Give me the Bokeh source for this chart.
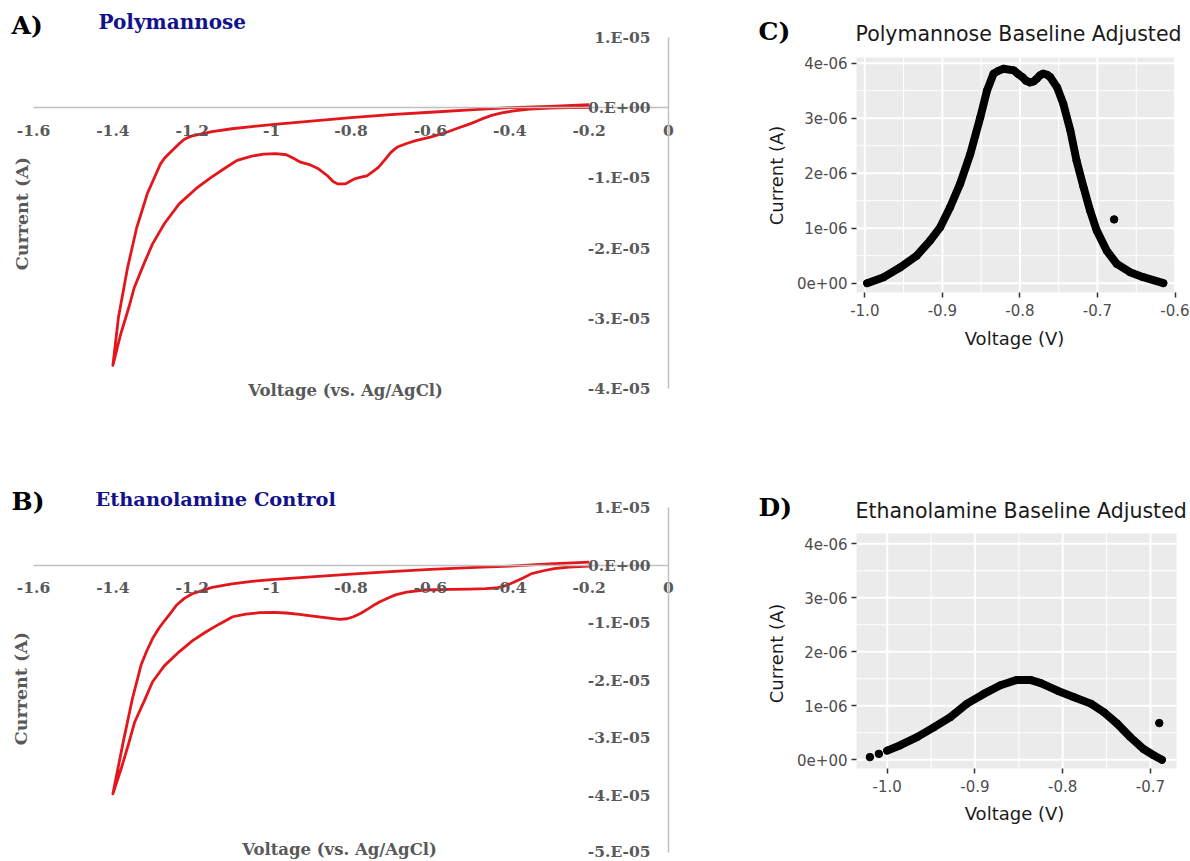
import math
from bokeh.plotting import figure
from bokeh.layouts import row, column
from bokeh.models import Range1d, FixedTicker, CustomJSTickFormatter, Label
from bokeh.embed import file_html
from bokeh.resources import INLINE

# ---------------- data ----------------
# Panel A: Polymannose cyclic voltammogram (V vs Ag/AgCl, A) - one closed sweep
a_v = [-0.2, -0.3, -0.4, -0.5, -0.6, -0.7, -0.8, -0.9, -1.0, -1.05, -1.1, -1.15, -1.2, -1.22,
       -1.233, -1.255, -1.27, -1.28, -1.295, -1.313, -1.34, -1.363, -1.386, -1.40,
       -1.38, -1.36, -1.346, -1.32, -1.30, -1.27, -1.233, -1.19, -1.154, -1.12, -1.087, -1.05,
       -1.02, -0.99, -0.963, -0.945, -0.927, -0.905, -0.882, -0.86, -0.845, -0.834, -0.814,
       -0.80, -0.789, -0.775, -0.76, -0.745, -0.731, -0.716, -0.70, -0.69, -0.683, -0.66,
       -0.637, -0.6, -0.559, -0.53, -0.50, -0.47, -0.446, -0.42, -0.39, -0.35, -0.30, -0.25, -0.2]
a_i = [0.45e-6, 0.2e-6, 0.0, -0.3e-6, -0.65e-6, -1.0e-6, -1.4e-6, -1.9e-6, -2.4e-6, -2.7e-6,
       -3.0e-6, -3.4e-6, -4.0e-6, -4.5e-6, -5.14e-6, -6.34e-6, -7.2e-6, -8.0e-6, -9.9e-6,
       -1.22e-5, -1.71e-5, -2.28e-5, -2.99e-5, -3.67e-5,
       -3.22e-5, -2.85e-5, -2.56e-5, -2.2e-5, -1.94e-5, -1.65e-5, -1.37e-5, -1.15e-5, -1.0e-5,
       -8.7e-6, -7.5e-6, -6.9e-6, -6.6e-6, -6.55e-6, -6.7e-6, -7.2e-6, -7.76e-6, -8.1e-6,
       -8.7e-6, -9.66e-6, -1.05e-5, -1.085e-5, -1.085e-5, -1.04e-5, -1.01e-5, -9.9e-6, -9.7e-6,
       -9.1e-6, -8.5e-6, -7.5e-6, -6.4e-6, -5.9e-6, -5.6e-6, -5.1e-6, -4.7e-6, -4.2e-6,
       -3.5e-6, -2.9e-6, -2.3e-6, -1.6e-6, -1.1e-6, -0.75e-6, -0.45e-6, -0.2e-6, -0.05e-6,
       0.0, 0.0]

# Panel B: Ethanolamine control cyclic voltammogram - one closed sweep
b_v = [-0.2, -0.3, -0.4, -0.5, -0.6, -0.7, -0.8, -0.9, -1.0, -1.05, -1.1, -1.15, -1.2, -1.22,
       -1.24, -1.256, -1.27, -1.284, -1.30, -1.315, -1.329, -1.351, -1.374, -1.40,
       -1.379, -1.36, -1.345, -1.32, -1.30, -1.27, -1.233, -1.20, -1.167, -1.13, -1.098,
       -1.065, -1.03, -0.995, -0.963, -0.93, -0.896, -0.86, -0.829, -0.81, -0.794, -0.775,
       -0.761, -0.745, -0.727, -0.705, -0.688, -0.66, -0.615, -0.55, -0.502, -0.46, -0.435,
       -0.41, -0.39, -0.365, -0.345, -0.315, -0.288, -0.25, -0.2]
b_i = [0.5e-6, 0.2e-6, -0.2e-6, -0.45e-6, -0.75e-6, -1.15e-6, -1.6e-6, -2.05e-6, -2.55e-6,
       -2.85e-6, -3.3e-6, -3.9e-6, -5.0e-6, -5.8e-6, -7.0e-6, -8.5e-6, -9.7e-6, -1.1e-5,
       -1.28e-5, -1.5e-5, -1.74e-5, -2.33e-5, -3.08e-5, -3.98e-5,
       -3.54e-5, -3.1e-5, -2.73e-5, -2.35e-5, -2.03e-5, -1.75e-5, -1.51e-5, -1.32e-5,
       -1.17e-5, -1.02e-5, -9.0e-6, -8.55e-6, -8.3e-6, -8.25e-6, -8.35e-6, -8.6e-6, -8.9e-6,
       -9.2e-6, -9.45e-6, -9.35e-6, -9.0e-6, -8.4e-6, -7.8e-6, -7.1e-6, -6.4e-6, -5.7e-6,
       -5.2e-6, -4.7e-6, -4.35e-6, -4.25e-6, -4.2e-6, -4.1e-6, -4.0e-6, -3.6e-6, -3.0e-6,
       -2.2e-6, -1.5e-6, -1.0e-6, -0.64e-6, -0.35e-6, -0.2e-6]

# Panel C: Polymannose baseline adjusted
c_v = [-0.997, -0.9755, -0.954, -0.933, -0.9155, -0.9026, -0.890, -0.877, -0.864, -0.851,
       -0.8425, -0.834, -0.828, -0.821, -0.808, -0.802, -0.797, -0.792, -0.787, -0.782,
       -0.778, -0.774, -0.770, -0.765, -0.761, -0.752, -0.744, -0.735, -0.727, -0.718,
       -0.7095, -0.701, -0.688, -0.675, -0.658, -0.641, -0.615]
c_i = [0.0, 0.11e-6, 0.29e-6, 0.50e-6, 0.78e-6, 1.02e-6, 1.38e-6, 1.81e-6, 2.35e-6, 3.02e-6,
       3.50e-6, 3.81e-6, 3.86e-6, 3.90e-6, 3.87e-6, 3.80e-6, 3.75e-6, 3.68e-6, 3.65e-6,
       3.67e-6, 3.72e-6, 3.78e-6, 3.81e-6, 3.79e-6, 3.75e-6, 3.56e-6, 3.26e-6, 2.78e-6,
       2.23e-6, 1.75e-6, 1.32e-6, 0.96e-6, 0.59e-6, 0.35e-6, 0.20e-6, 0.11e-6, 0.0]
c_out_v = [-0.6785]
c_out_i = [1.16e-6]

# Panel D: Ethanolamine baseline adjusted
d_v = [-1.0, -0.985, -0.966, -0.947, -0.928, -0.909, -0.890, -0.871, -0.852, -0.837, -0.825,
       -0.806, -0.787, -0.768, -0.753, -0.738, -0.723, -0.708, -0.696, -0.687]
d_i = [0.17e-6, 0.27e-6, 0.42e-6, 0.60e-6, 0.79e-6, 1.04e-6, 1.22e-6, 1.38e-6, 1.48e-6, 1.48e-6,
       1.42e-6, 1.28e-6, 1.16e-6, 1.04e-6, 0.88e-6, 0.67e-6, 0.42e-6, 0.20e-6, 0.08e-6, 0.0]
d_out_v = [-1.0197, -1.0095, -0.690]
d_out_i = [0.05e-6, 0.11e-6, 0.68e-6]

cv_xticks = [-1.6, -1.4, -1.2, -1.0, -0.8, -0.6, -0.4, -0.2, 0.0]
a_yticks = [1e-5, 0.0, -1e-5, -2e-5, -3e-5, -4e-5]
b_yticks = [1e-5, 0.0, -1e-5, -2e-5, -3e-5, -4e-5, -5e-5]
c_xticks = [-1.0, -0.9, -0.8, -0.7, -0.6]
c_xminor = [-0.95, -0.85, -0.75, -0.65]
d_xticks = [-1.0, -0.9, -0.8, -0.7]
d_xminor = [-0.95, -0.85, -0.75]
gg_yticks = [0.0, 1e-6, 2e-6, 3e-6, 4e-6]
gg_yminor = [0.5e-6, 1.5e-6, 2.5e-6, 3.5e-6]

SERIF = "DejaVu Serif"
SANS = "DejaVu Sans"
RED = "#E3161B"
NAVY = "#12128A"
AXGRAY = "#595959"


def mapper(px0, px1, d0, d1):
    return lambda p: d0 + (p - px0) * (d1 - d0) / (px1 - px0)


def base_fig(w, h, fx, fy, x0, y0):
    # the frame fills the whole canvas; page pixel (x0..x0+w, y0..y0+h)
    p = figure(width=w, height=h,
               x_range=Range1d(fx(x0), fx(x0 + w)), y_range=Range1d(fy(y0 + h), fy(y0)),
               output_backend="svg", toolbar_location=None,
               min_border_left=0, min_border_right=0, min_border_top=0, min_border_bottom=0)
    p.title.visible = False
    p.outline_line_color = None
    p.xgrid.visible = False
    p.ygrid.visible = False
    p.background_fill_color = "white"
    p.border_fill_color = "white"
    return p


def add_label(fig, fx, fy, px, py, text, size, color, font, style="bold", align="left", angle=0.0):
    fig.add_layout(Label(x=fx(px), y=fy(py), text=text, text_font=font,
                         text_font_size=f"{size}px", text_font_style=style,
                         text_color=color, text_align=align, text_baseline="middle",
                         angle=angle))


def cv_panel(y0, h, frame_top, frame_bot, ymin, ticks, v, i):
    fx = mapper(33, 668, -1.6, 0.0)
    fy = mapper(frame_top, frame_bot, 1e-5, ymin)
    p = base_fig(740, h, fx, fy, 0, y0)
    p.line(v, i, line_color=RED, line_width=2.8, line_join="round")
    for ax in (p.xaxis, p.yaxis):
        ax.fixed_location = 0
        ax.axis_line_color = "#C0C0C0"
        ax.axis_line_width = 1.5
        ax.major_tick_out = 0
        ax.major_tick_in = 0
        ax.minor_tick_out = 0
        ax.minor_tick_in = 0
        ax.major_label_text_font = SERIF
        ax.major_label_text_font_style = "bold"
        ax.major_label_text_font_size = "15.5px"
        ax.major_label_text_color = AXGRAY
    p.xaxis.bounds = (-1.6, 0.0)
    p.yaxis.bounds = (ymin, 1e-5)
    p.xaxis.ticker = FixedTicker(ticks=cv_xticks)
    p.xaxis.formatter = CustomJSTickFormatter(code="return String(Math.round(tick*10)/10);")
    p.xaxis.major_label_standoff = 17
    p.yaxis.ticker = FixedTicker(ticks=ticks)
    p.yaxis.formatter = CustomJSTickFormatter(
        code='const m = Math.round(tick*1e5); return m == 0 ? "0.E+00" : m + ".E-05";')
    p.yaxis.major_label_standoff = 18
    return p, fx, fy


pA, fxA, fyA = cv_panel(0, 460, 37, 388, -4e-5, a_yticks, a_v, a_i)
add_label(pA, fxA, fyA, 11, 25, "A)", 25, "black", SERIF)
add_label(pA, fxA, fyA, 98, 21, "Polymannose", 20, NAVY, SERIF)
add_label(pA, fxA, fyA, 21, 213, "Current (A)", 17.5, AXGRAY, SERIF, align="center", angle=math.pi / 2)
add_label(pA, fxA, fyA, 345, 390, "Voltage (vs. Ag/AgCl)", 16.5, AXGRAY, SERIF, align="center")

pB, fxB, fyB = cv_panel(460, 400, 507, 852, -5e-5, b_yticks, b_v, b_i)
add_label(pB, fxB, fyB, 11, 501, "B)", 25, "black", SERIF)
add_label(pB, fxB, fyB, 95, 499, "Ethanolamine Control", 19.4, NAVY, SERIF)
add_label(pB, fxB, fyB, 20, 688, "Current (A)", 17.5, AXGRAY, SERIF, align="center", angle=math.pi / 2)
add_label(pB, fxB, fyB, 339, 849, "Voltage (vs. Ag/AgCl)", 16.5, AXGRAY, SERIF, align="center")


def gg_panel(y0, h, fx, fy, box, xt, xm, v, i, ov, oi, letter, title, ly, ty, cy_lab, vy_lab):
    p = base_fig(450, h, fx, fy, 740, y0)
    L, R, T, B = fx(box[0]), fx(box[1]), fy(box[2]), fy(box[3])
    p.quad(left=[L], right=[R], bottom=[B], top=[T], fill_color="#EBEBEB", line_color=None)
    # minor then major grid lines (white), restricted to the panel
    p.segment(x0=xm, x1=xm, y0=[B] * len(xm), y1=[T] * len(xm), line_color="white", line_width=1)
    p.segment(x0=[L] * len(gg_yminor), x1=[R] * len(gg_yminor), y0=gg_yminor, y1=gg_yminor,
              line_color="white", line_width=1)
    xin = [t for t in xt if L <= t <= R]
    p.segment(x0=xin, x1=xin, y0=[B] * len(xin), y1=[T] * len(xin), line_color="white", line_width=2)
    p.segment(x0=[L] * len(gg_yticks), x1=[R] * len(gg_yticks), y0=gg_yticks, y1=gg_yticks,
              line_color="white", line_width=2)
    p.line(v, i, line_color="black", line_width=8, line_join="round", line_cap="round")
    p.scatter(v, i, size=7, color="black")
    p.scatter(ov, oi, size=7.5, color="black")

    p.xaxis.fixed_location = B
    p.yaxis.fixed_location = L
    p.xaxis.ticker = FixedTicker(ticks=xt)
    p.yaxis.ticker = FixedTicker(ticks=gg_yticks)
    p.xaxis.formatter = CustomJSTickFormatter(code="return tick.toFixed(1);")
    p.yaxis.formatter = CustomJSTickFormatter(
        code='const m = Math.round(tick*1e6); return m + (m == 0 ? "e+00" : "e-06");')
    for ax in (p.xaxis, p.yaxis):
        ax.axis_line_color = None
        ax.major_tick_out = 5
        ax.major_tick_in = 0
        ax.major_tick_line_color = "#333333"
        ax.major_tick_line_width = 1.5
        ax.minor_tick_out = 0
        ax.minor_tick_in = 0
        ax.major_label_text_font = SANS
        ax.major_label_text_font_size = "15px"
        ax.major_label_text_color = "#4D4D4D"
    p.xaxis.major_label_standoff = 6
    p.yaxis.major_label_standoff = 4

    add_label(p, fx, fy, 758, ly, letter, 25, "black", SERIF)
    add_label(p, fx, fy, 855, ty, title, 20.5, "#1A1A1A", SANS, style="normal")
    add_label(p, fx, fy, 776, cy_lab, "Current (A)", 18, "#1A1A1A", SANS, style="normal",
              align="center", angle=math.pi / 2)
    add_label(p, fx, fy, 1014, vy_lab, "Voltage (V)", 18, "#1A1A1A", SANS, style="normal",
              align="center")
    return p


fxC = mapper(864.3, 1174.5, -1.0, -0.6)
fyC = mapper(282.7, 62.7, 0.0, 4e-6)
pC = gg_panel(0, 460, fxC, fyC, (856, 1175, 57, 292), c_xticks, c_xminor, c_v, c_i,
              c_out_v, c_out_i, "C)", "Polymannose Baseline Adjusted", 31, 33, 175, 338)

fxD = mapper(886.7, 1150.0, -1.0, -0.7)
fyD = mapper(759.3, 543.3, 0.0, 4e-6)
pD = gg_panel(460, 400, fxD, fyD, (856, 1176, 533, 768), d_xticks, d_xminor, d_v, d_i,
              d_out_v, d_out_i, "D)", "Ethanolamine Baseline Adjusted", 507, 510, 653, 813)

layout = row(column(pA, pB), column(pC, pD))
open("out.html", "w").write(file_html(layout, INLINE))
